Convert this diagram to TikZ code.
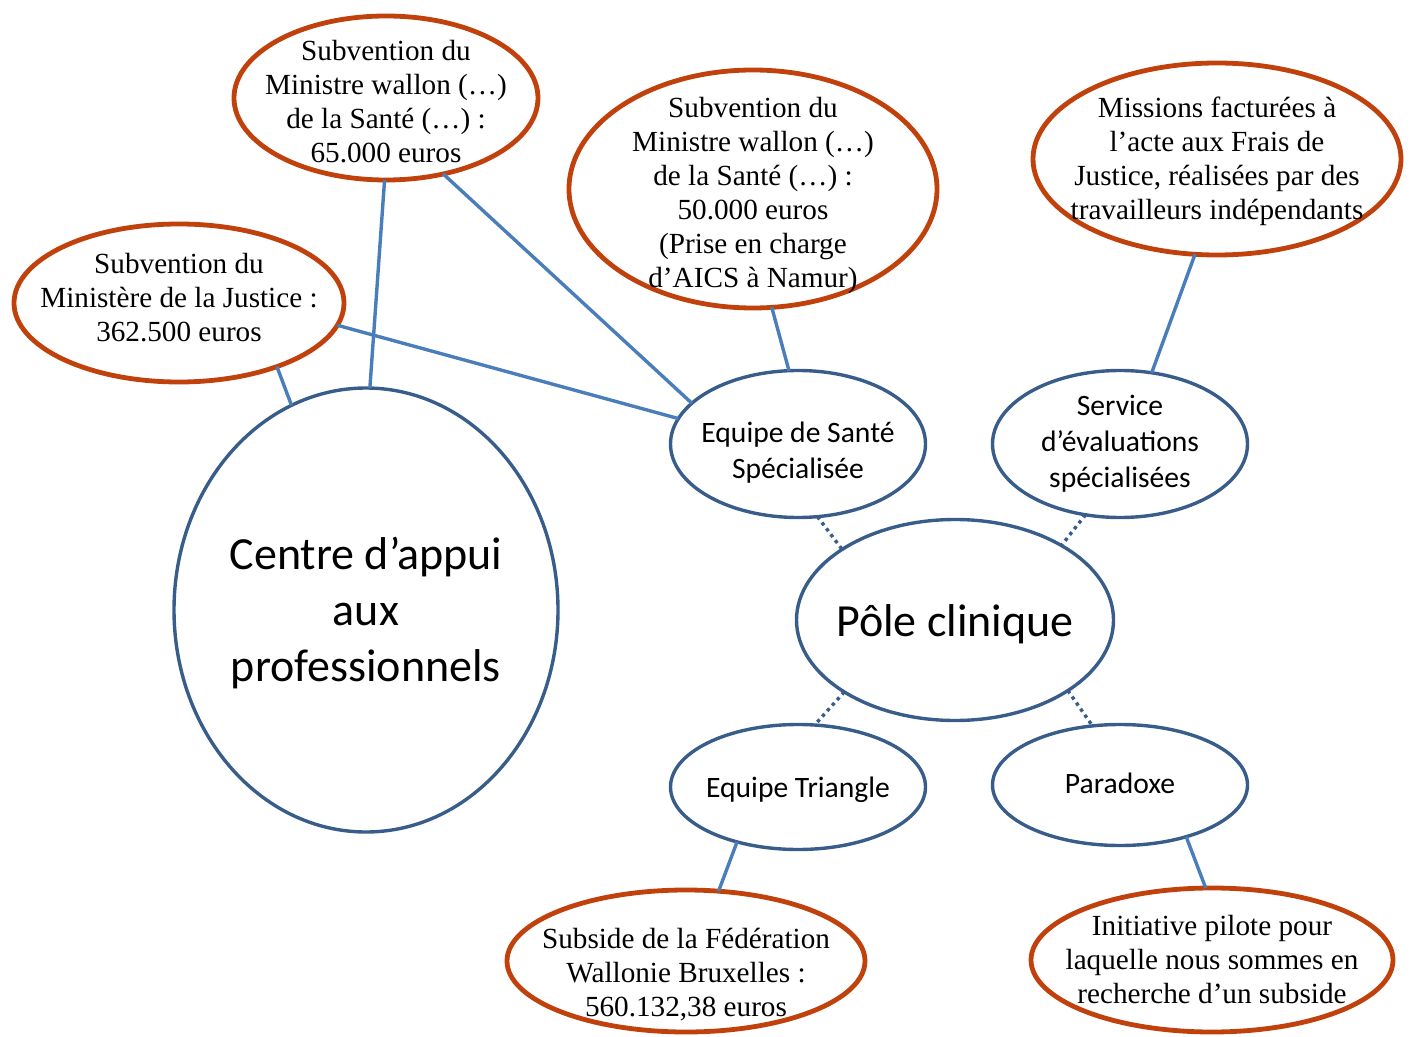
\documentclass[tikz,border=0pt]{standalone}
\usepackage{fontspec}
\setmainfont{Liberation Serif}
\newfontfamily\calibri{Carlito}
\usetikzlibrary{shapes.geometric}
\definecolor{fundred}{HTML}{C0410C}
\definecolor{unitblue}{HTML}{385D8A}
\definecolor{linkblue}{HTML}{4A7EBB}

\begin{document}
\begin{tikzpicture}[x=0.5pt,y=-0.5pt,
    fund/.style={ellipse,draw=fundred,line width=2.4pt,inner sep=0pt,outer sep=0pt},
    unit/.style={ellipse,draw=unitblue,line width=1.7pt,inner sep=0pt,outer sep=0pt},
    ftxt/.style={align=center,font=\fontsize{14.6}{17}\selectfont},
    utxt/.style={align=center,font=\calibri\fontsize{14.8}{18}\selectfont},
    btxt/.style={align=center,font=\calibri\fontsize{23}{28}\selectfont},
    link/.style={draw=linkblue,line width=1.7pt},
    dots/.style={draw=unitblue,line width=1.7pt,dotted}]
  \useasboundingbox (0,0) rectangle (1413,1037);
  % financements
  \node[fund,minimum width=165pt,minimum height=79pt,
    label={[ftxt,yshift=2.5pt]center:{Subvention du\\Ministère de la Justice :\\362.500 euros}}] (just) at (179,303) {};
  \node[fund,minimum width=152pt,minimum height=82pt,
    label={[ftxt,yshift=-2pt]center:{Subvention du\\Ministre wallon (…)\\de la Santé (…) :\\65.000 euros}}] (sant1) at (386,98) {};
  \node[fund,minimum width=184pt,minimum height=119pt,
    label={[ftxt,yshift=-3pt]center:{Subvention du\\Ministre wallon (…)\\de la Santé (…) :\\50.000 euros\\(Prise en charge\\d’AICS à Namur)}}] (sant2) at (753,189) {};
  \node[fund,minimum width=184pt,minimum height=96pt,
    label={[ftxt,yshift=-1pt]center:{Missions facturées à\\l’acte aux Frais de\\Justice, réalisées par des\\travailleurs indépendants}}] (miss) at (1217,159) {};
  \node[fund,minimum width=179pt,minimum height=71pt,
    label={[ftxt,yshift=-7pt]center:{Subside de la Fédération\\Wallonie Bruxelles :\\560.132,38 euros}}] (fwb) at (686,961) {};
  \node[fund,minimum width=181pt,minimum height=72pt,
    label={[ftxt]center:{Initiative pilote pour\\laquelle nous sommes en\\recherche d’un subside}}] (init) at (1212,960) {};
  % services
  \node[unit,minimum width=192pt,minimum height=222pt,
    label={[btxt,yshift=-1.5pt]center:{Centre d’appui\\aux\\professionnels}}] (cap) at (366,610) {};
  \node[unit,minimum width=127.5pt,minimum height=73.5pt,
    label={[utxt,yshift=-4.5pt]center:{Equipe de Santé\\Spécialisée}}] (ess) at (798,444) {};
  \node[unit,minimum width=127.5pt,minimum height=73.5pt,
    label={[utxt]center:{Service\\d’évaluations\\spécialisées}}] (sev) at (1120,444) {};
  \node[unit,minimum width=158.5pt,minimum height=100.5pt,
    label={[btxt,yshift=-2pt]center:{Pôle clinique}}] (pole) at (955,620) {};
  \node[unit,minimum width=127.5pt,minimum height=62.5pt,
    label={[utxt,yshift=-1.5pt]center:{Equipe Triangle}}] (tri) at (798,787) {};
  \node[unit,minimum width=127.5pt,minimum height=60.5pt,
    label={[utxt,yshift=1pt]center:{Paradoxe}}] (para) at (1120,785) {};
  \path[link]
    (just.-33) edge (cap.110)
    (just.-8) edge (ess.168)
    (sant1.-91) edge (cap.89)
    (sant1.-53) edge (ess.159)
    (sant2.-81) edge (ess.97)
    (miss.-103) edge (sev.66)
    (tri.-138) edge (fwb.65)
    (para.-38) edge (init.95);
  \path[dots]
    (ess.-75) edge (pole.148)
    (sev.-116) edge (pole.35)
    (pole.-147) edge (tri.75)
    (pole.-32) edge (para.115);
\end{tikzpicture}
\end{document}
